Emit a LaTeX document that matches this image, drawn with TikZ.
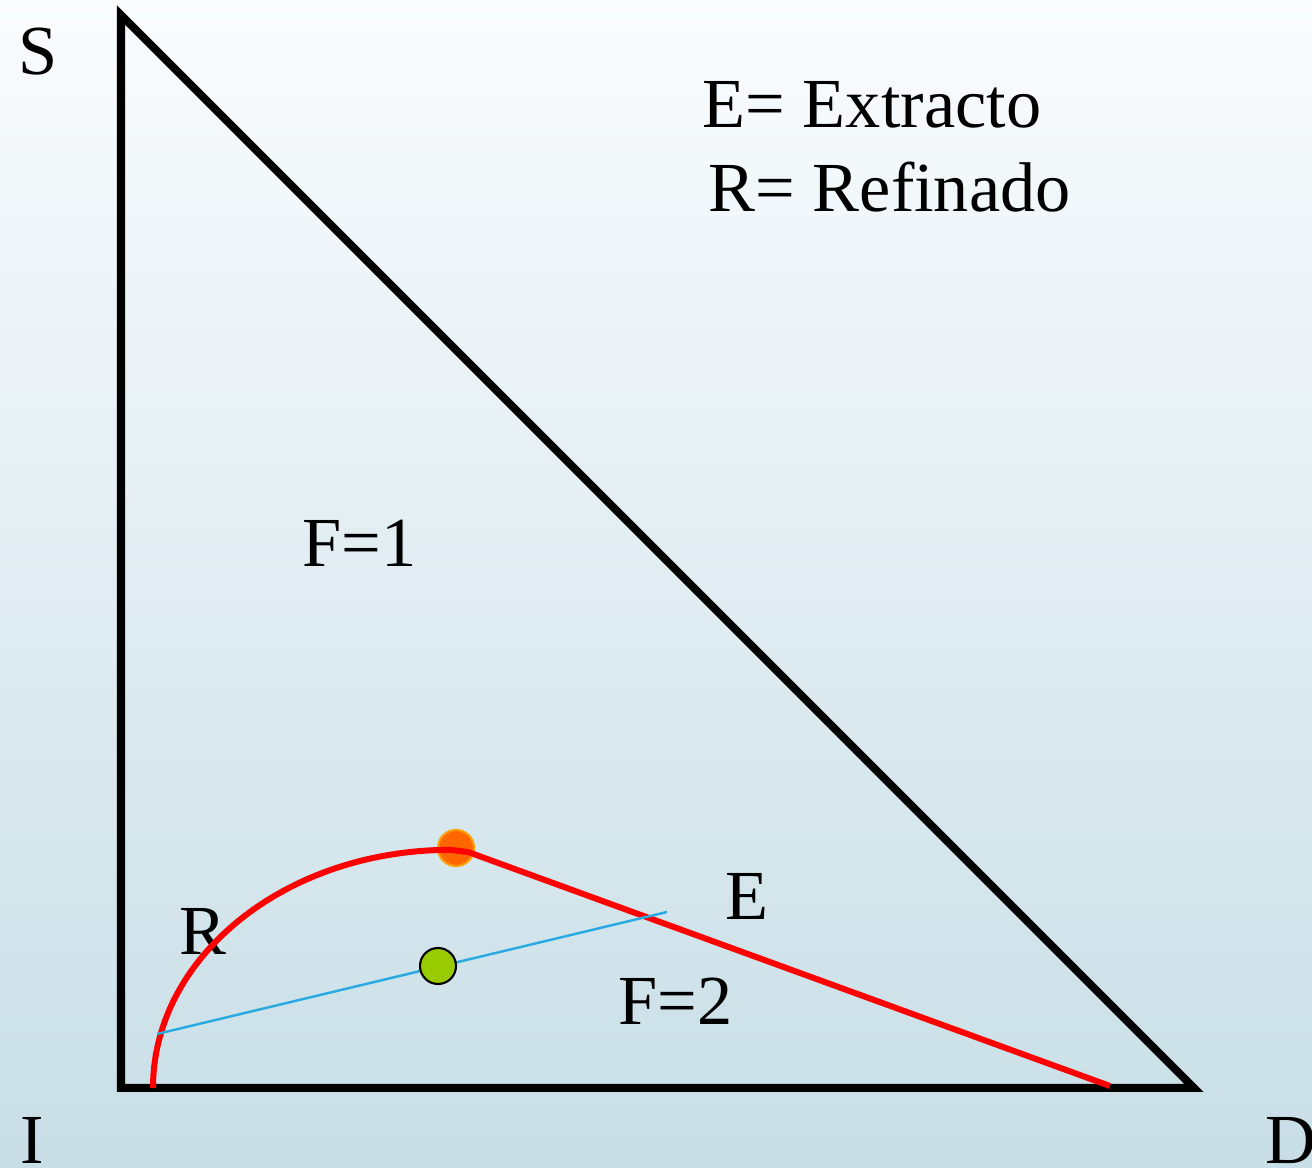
\documentclass[tikz,border=0pt]{standalone}
\usepackage{fontspec}
\setmainfont{Liberation Serif}
\definecolor{bgtop}{RGB}{250,252,254}
\definecolor{bgbot}{RGB}{200,222,230}
\definecolor{tieblue}{RGB}{41,171,226}
\definecolor{plaitorange}{RGB}{255,102,0}
\definecolor{plaitring}{RGB}{255,160,0}
\definecolor{mixgreen}{RGB}{153,204,0}
\begin{document}
\begin{tikzpicture}[x=0.01cm,y=-0.01cm,
  lbl/.style={anchor=base west,inner sep=0pt,font=\fontsize{20}{24}\selectfont},
  dot/.style={circle,inner sep=0pt,minimum size=0.36cm,line width=0.6pt}]
\shade[top color=bgtop,bottom color=bgbot] (0,0) rectangle (1312,1168);
\useasboundingbox (0,0) rectangle (1312,1168);
\coordinate (S) at (121,15);
\coordinate (I) at (121,1088);
\coordinate (D) at (1194,1088);
\draw[line width=0.08cm] (S) -- (I) -- (D) -- cycle;
\node[lbl] (labS) at (18,75) {S};
\node[lbl] (labI) at (20,1164) {I};
\node[lbl] (labD) at (1265,1164) {D};
\node[lbl] (leyE) at (702,128) {E= Extracto};
\node[lbl] (leyR) at (708,212) {R= Refinado};
\node[lbl] (f1) at (302,567) {F=1};
\node[lbl] (f2) at (618,1025) {F=2};
\node[lbl] (labE) at (725,920) {E};
\node[lbl] (labR) at (179,955) {R};
\node[dot,draw=plaitring,fill=plaitorange] (plait) at (456,848) {};
\draw[red,line width=0.06cm] (153,1088) arc[start angle=180,end angle=90,x radius=2.97cm,y radius=2.38cm] -- (468,852) -- (1110,1086);
\coordinate (tieR) at (157,1034);
\coordinate (tieE) at (667,912);
\draw[tieblue,line width=0.7pt] (tieR) -- (tieE);
\node[dot,draw=black,fill=mixgreen] (mix) at (438,966) {};
\end{tikzpicture}
\end{document}
